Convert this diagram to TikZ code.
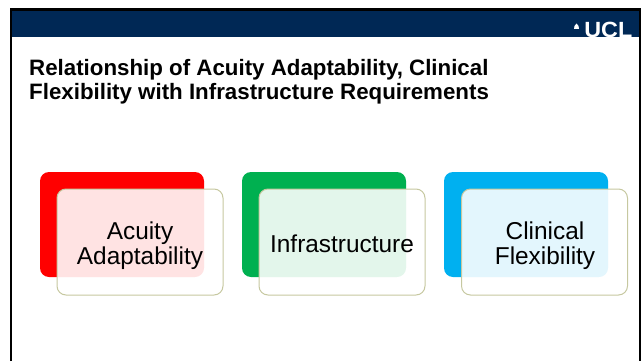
\documentclass[tikz,border=0pt]{standalone}
\usepackage{fontspec}
\usepackage{xcolor}
\setmainfont{Liberation Sans}
\definecolor{uclnavy}{HTML}{002855}
\definecolor{uclred}{HTML}{FF0000}
\definecolor{uclgreen}{HTML}{00B050}
\definecolor{uclblue}{HTML}{00B0F0}
\definecolor{overedge}{HTML}{C6C8A0}
\tikzset{
    backbox/.style={rectangle,rounded corners=9pt,inner sep=0pt,minimum width=164pt,minimum height=105pt},
    overbox/.style={rectangle,rounded corners=9pt,inner sep=0pt,minimum width=166pt,minimum height=106pt,draw=overedge,line width=1pt,fill=white,fill opacity=0.89},
    boxtext/.style={align=center,text=black,font=\fontsize{24.4pt}{25pt}\selectfont}
}
\begin{document}
\begin{tikzpicture}[x=1pt,y=-1pt]
            \useasboundingbox (0,0) rectangle (644,361);
            %
            \fill[uclnavy] (11,10) rectangle (640,37);
            \draw[black,line width=2.2pt] (11,361) -- (11,9.5) -- (640,9.5) -- (640,361);
            %
            \node[text=white,anchor=east,inner sep=0pt,xscale=1.06,font=\bfseries\fontsize{22pt}{22pt}\selectfont] (logo) at (632.5,30) {UCL};
            \fill[white] (574,29) -- (574.5,26) -- (576.5,23.5) -- (578.5,26) -- (579,29) -- cycle;
            %
            \node[anchor=north west,align=left,inner sep=0pt,font=\bfseries\fontsize{22.3pt}{24pt}\selectfont] (title) at (29,59) {Relationship of Acuity Adaptability, Clinical\\Flexibility with Infrastructure Requirements};
            %
            \node[backbox,fill=uclred] (acuityback) at (122,224.5) {};
            \node[backbox,fill=uclgreen] (infraback) at (324,224.5) {};
            \node[backbox,fill=uclblue] (clinicalback) at (526,224.5) {};
            %
            \node[overbox] (acuity) at (140,242) {};
            \node[overbox] (infra) at (342,242) {};
            \node[overbox] (clinical) at (544.5,242) {};
            %
            \node[boxtext] (acuitytext) at (140,246) {Acuity\\Adaptability};
            \node[boxtext] (infratext) at (342,243.5) {Infrastructure};
            \node[boxtext] (clinicaltext) at (545,246) {Clinical\\Flexibility};
        \end{tikzpicture}
\end{document}
